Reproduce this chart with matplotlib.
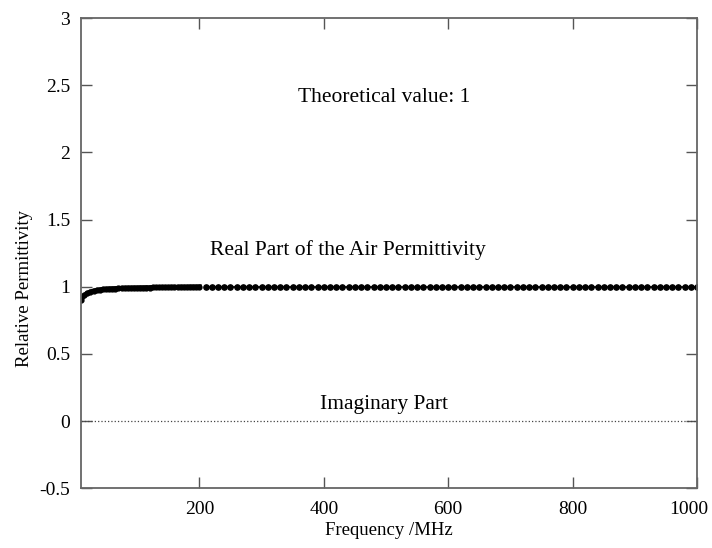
# Relative permittivity of air vs frequency.
# Real part (dots) and imaginary part (dotted line).

import matplotlib.pyplot as plt
from matplotlib.transforms import ScaledTranslation

plt.rcParams['font.family'] = ['Liberation Serif', 'DejaVu Serif']

# low-frequency sweep (MHz), 5 MHz step
freq_low = [10, 15, 20, 25, 30, 35, 40, 45, 50, 55, 60, 65, 70, 75, 80, 85, 90,
            95, 100, 105, 110, 115, 120, 125, 130, 135, 140, 145, 150, 155, 160,
            165, 170, 175, 180, 185, 190, 195, 200]
real_low = [0.905, 0.935, 0.952, 0.962, 0.969, 0.974, 0.978, 0.981, 0.983,
            0.985, 0.986, 0.987, 0.988, 0.989, 0.990, 0.991, 0.991, 0.992,
            0.992, 0.993, 0.993, 0.994, 0.994, 0.995, 0.995, 0.995, 0.996,
            0.996, 0.996, 0.997, 0.997, 0.997, 0.998, 0.998, 0.998, 0.999,
            0.999, 0.999, 1.000]

# high-frequency sweep (MHz), 10 MHz step
freq_high = list(range(210, 1001, 10))
real_high = [1.0] * len(freq_high)

imag_low = [0.0] * len(freq_low)
imag_high = [0.0] * len(freq_high)

freq = freq_low + freq_high
imag_part = imag_low + imag_high

fig = plt.figure(figsize=(7.12, 5.48), dpi=100)
ax = fig.add_axes([0.114, 0.109, 0.865, 0.858])

ax.plot(freq_low, real_low, color='black', lw=3.5, marker='o', ms=3.5)
ax.plot(freq_high, real_high, color='black', lw=1.2, marker='o', ms=3.8)
ax.plot(freq, imag_part, color='#444444', lw=0.9, linestyle=':')

ax.set_xlim(10, 1000)
ax.set_ylim(-0.5, 3)
ax.set_xticks([200, 400, 600, 800, 1000])
ax.set_yticks([-0.5, 0, 0.5, 1, 1.5, 2, 2.5, 3])
ax.set_yticklabels(['-0.5', '0', '0.5', '1', '1.5', '2', '2.5', '3'])

ax.tick_params(direction='in', length=8, width=1.0, color='#555555',
               top=True, right=True, labelsize=14, pad=8)
ax.tick_params(axis='x', pad=9)
for s in ax.spines.values():
    s.set_color('#666666')
    s.set_linewidth(1.3)

# pull the last x label in a bit so it stays inside the picture
last = ax.get_xticklabels()[-1]
last.set_transform(last.get_transform() + ScaledTranslation(-8 / 100, 0, fig.dpi_scale_trans))

ax.set_xlabel('Frequency /MHz', fontsize=13.5, labelpad=3)
ax.set_ylabel('Relative Permittivity', fontsize=13.5, labelpad=4)
ax.yaxis.set_label_coords(-0.078, 0.425)

ax.text(497, 2.41, 'Theoretical value: 1', fontsize=15.5, ha='center', va='center')
ax.text(439, 1.27, 'Real Part of the Air Permittivity', fontsize=15.5,
        ha='center', va='center')
ax.text(497, 0.125, 'Imaginary Part', fontsize=15.5, ha='center', va='center')

fig.savefig('out.png', dpi=100)
